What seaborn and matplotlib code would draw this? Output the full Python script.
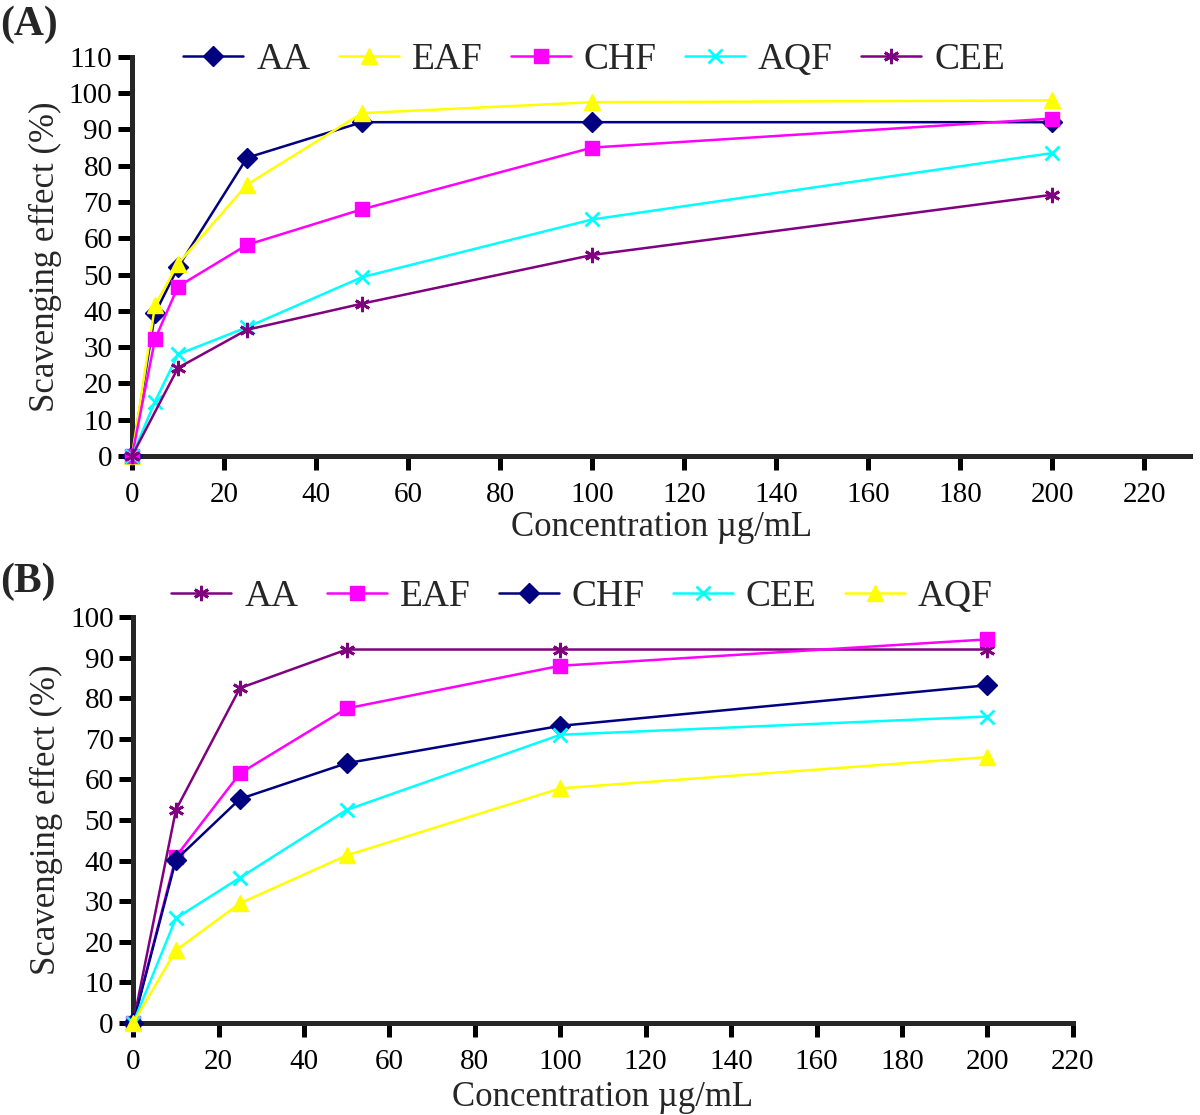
import matplotlib
matplotlib.use("Agg")
import matplotlib.pyplot as plt
import seaborn as sns
import pandas as pd

# Panel A data
conc_a = [0, 5, 10, 25, 50, 100, 200]
aa_a = [0, 39.3, 52, 82.2, 92, 92, 92]
eaf_a = [0, 41.5, 53, 74.8, 94.5, 97.5, 98]
chf_a = [0, 32.2, 46.7, 58.2, 68, 85, 93]
aqf_a = [0, 15, 28, 35.5, 49.3, 65.2, 83.5]
conc_cee_a = [0, 10, 25, 50, 100, 200]
cee_a = [0, 24.3, 34.8, 42, 55.4, 72]

# Panel B data
conc_b = [0, 10, 25, 50, 100, 200]
aa_b = [0, 52.5, 82.5, 92, 92, 92]
eaf_b = [0, 41, 61.5, 77.5, 88, 94.5]
chf_b = [0, 40.2, 55.2, 64, 73.2, 83.2]
cee_b = [0, 25.8, 35.8, 52.5, 71, 75.5]
aqf_b = [0, 17.9, 29.5, 41.3, 57.8, 65.5]

NAVY = "#000080"
YELLOW = "#FFFF00"
MAGENTA = "#FF00FF"
CYAN = "#00FFFF"
PURPLE = "#800080"
ASTER = (6, 2, 0)

series_a = [
    ("AA", conc_a, aa_a, NAVY, "D", 10),
    ("EAF", conc_a, eaf_a, YELLOW, "^", 12),
    ("CHF", conc_a, chf_a, MAGENTA, "s", 10),
    ("AQF", conc_a, aqf_a, CYAN, "x", 10),
    ("CEE", conc_cee_a, cee_a, PURPLE, ASTER, 11),
]
series_b = [
    ("AA", conc_b, aa_b, PURPLE, ASTER, 11),
    ("EAF", conc_b, eaf_b, MAGENTA, "s", 10),
    ("CHF", conc_b, chf_b, NAVY, "D", 10),
    ("CEE", conc_b, cee_b, CYAN, "x", 10),
    ("AQF", conc_b, aqf_b, YELLOW, "^", 12),
]

sns.set_style("ticks")
plt.rcParams["font.family"] = ["Liberation Serif", "DejaVu Serif"]

fig = plt.figure(figsize=(12, 11.15), dpi=100)
ax_a = fig.add_axes([0.110, 0.591, 0.882, 0.358])
ax_b = fig.add_axes([0.111, 0.0825, 0.783, 0.3641])


def draw_panel(ax, series, xmax, ymax, ystep, xlabelpad):
    for name, xs, ys, color, marker, ms in series:
        df = pd.DataFrame({"x": xs, "y": ys})
        mew = 2 if marker in ("x", ASTER) else 1
        sns.lineplot(data=df, x="x", y="y", ax=ax, color=color, marker=marker,
                     markersize=ms, markeredgecolor=color, markeredgewidth=mew,
                     linewidth=1.8, label=name, clip_on=False, zorder=3)
    ax.set_xlim(0, xmax)
    ax.set_ylim(0, ymax)
    ax.set_xticks(range(0, 221, 20))
    ax.set_yticks(range(0, ymax + 1, ystep))
    for side in ("top", "right"):
        ax.spines[side].set_visible(False)
    for side in ("left", "bottom"):
        ax.spines[side].set_linewidth(3.6)
    ax.tick_params(axis="both", direction="out", length=10, width=3.6,
                   labelsize=21, pad=4, colors="black")
    ax.tick_params(axis="x", pad=9)
    ax.set_xlabel("Concentration µg/mL", fontsize=25, labelpad=xlabelpad)
    ax.set_ylabel("Scavenging effect (%)", fontsize=25, labelpad=5)
    ax.get_legend().remove()


draw_panel(ax_a, series_a, 230, 110, 10, 2)
draw_panel(ax_b, series_b, 220, 100, 10, 4)

h, l = ax_a.get_legend_handles_labels()
fig.legend(h, l, loc="center", bbox_to_anchor=(0.495, 0.946), ncol=5,
           frameon=False, fontsize=27, handlelength=1.6, handletextpad=0.35,
           columnspacing=0.75)
h, l = ax_b.get_legend_handles_labels()
fig.legend(h, l, loc="center", bbox_to_anchor=(0.485, 0.4646), ncol=5,
           frameon=False, fontsize=27, handlelength=1.6, handletextpad=0.35,
           columnspacing=0.75)

fig.text(0.0, 0.978, "(A)", fontsize=30, fontweight="bold", va="center")
fig.text(0.0, 0.478, "(B)", fontsize=30, fontweight="bold", va="center")

fig.savefig("out.png", dpi=100)
